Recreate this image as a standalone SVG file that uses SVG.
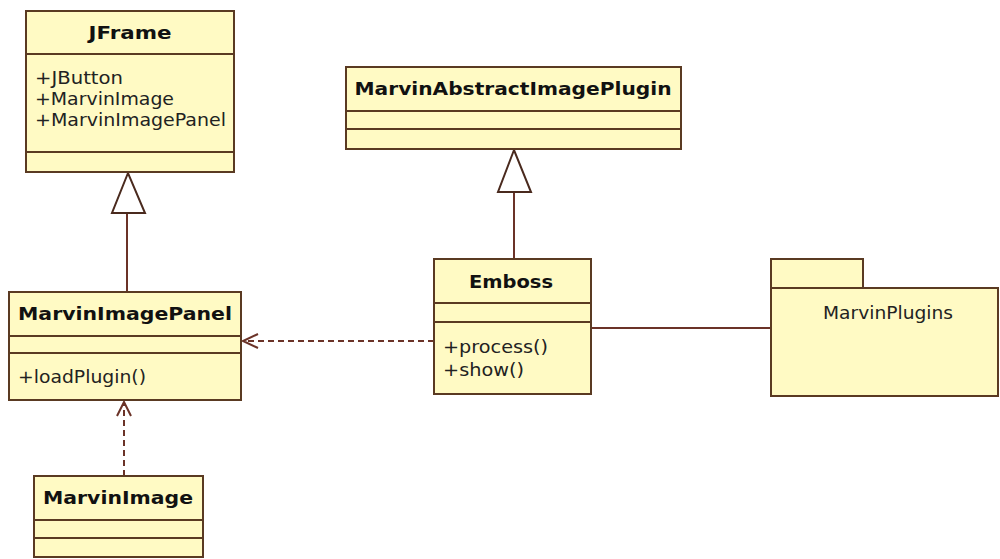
<svg xmlns="http://www.w3.org/2000/svg" width="1000" height="559" viewBox="0 0 1000 559">
<style>
.box{fill:#FFFAC4;stroke:#5A3A22;stroke-width:2}
.div{stroke:#5A3A22;stroke-width:2}
.t{font-family:"DejaVu Sans",Verdana,sans-serif;font-weight:bold;font-size:18px;fill:#111}
.a{font-family:"DejaVu Sans",Verdana,sans-serif;font-size:17px;fill:#222}
.c{stroke:#6B3328;stroke-width:2;fill:none}
.d{stroke:#6B3328;stroke-width:2;fill:none;stroke-dasharray:6,4}
.tri{fill:#fff;stroke:#4A2A1E;stroke-width:2}
</style>
<rect width="1000" height="559" fill="#fff"/>
<g id="connectors">
<line class="c" x1="127" y1="213" x2="127" y2="292"/>
<polygon class="tri" points="128,173 112,213 145,213"/>
<line class="c" x1="514" y1="192" x2="514" y2="259"/>
<polygon class="tri" points="514,150 498,192 531,192"/>
<line class="d" x1="434" y1="341" x2="243" y2="341"/>
<polyline class="c" points="258,334 243,341 258,348"/>
<line class="d" x1="124" y1="476" x2="124" y2="402"/>
<polyline class="c" points="117,416 124,402 131,416"/>
<line class="c" x1="591" y1="328" x2="771" y2="328"/>
</g>
<g id="JFrame">
<rect class="box" x="26" y="11" width="208" height="161"/>
<line class="div" x1="26" y1="54" x2="234" y2="54"/>
<line class="div" x1="26" y1="152" x2="234" y2="152"/>
<text class="t" x="130" y="39" text-anchor="middle" textLength="83" lengthAdjust="spacingAndGlyphs">JFrame</text>
<text class="a" x="35" y="84" textLength="88" lengthAdjust="spacingAndGlyphs">+JButton</text>
<text class="a" x="35" y="105" textLength="139" lengthAdjust="spacingAndGlyphs">+MarvinImage</text>
<text class="a" x="35" y="126" textLength="191" lengthAdjust="spacingAndGlyphs">+MarvinImagePanel</text>
</g>
<g id="MarvinAbstractImagePlugin">
<rect class="box" x="346" y="67" width="335" height="82"/>
<line class="div" x1="346" y1="111" x2="681" y2="111"/>
<line class="div" x1="346" y1="129" x2="681" y2="129"/>
<text class="t" x="513" y="95" text-anchor="middle" textLength="317" lengthAdjust="spacingAndGlyphs">MarvinAbstractImagePlugin</text>
</g>
<g id="MarvinImagePanel">
<rect class="box" x="9" y="292" width="232" height="108"/>
<line class="div" x1="9" y1="336" x2="241" y2="336"/>
<line class="div" x1="9" y1="353" x2="241" y2="353"/>
<text class="t" x="18" y="320" textLength="214" lengthAdjust="spacingAndGlyphs">MarvinImagePanel</text>
<text class="a" x="18" y="383" textLength="128" lengthAdjust="spacingAndGlyphs">+loadPlugin()</text>
</g>
<g id="Emboss">
<rect class="box" x="434" y="259" width="157" height="135"/>
<line class="div" x1="434" y1="303" x2="591" y2="303"/>
<line class="div" x1="434" y1="322" x2="591" y2="322"/>
<text class="t" x="511" y="288" text-anchor="middle" textLength="84" lengthAdjust="spacingAndGlyphs">Emboss</text>
<text class="a" x="443" y="353" textLength="105" lengthAdjust="spacingAndGlyphs">+process()</text>
<text class="a" x="443" y="376" textLength="81" lengthAdjust="spacingAndGlyphs">+show()</text>
</g>
<g id="MarvinImage">
<rect class="box" x="34" y="476" width="169" height="81"/>
<line class="div" x1="34" y1="520" x2="203" y2="520"/>
<line class="div" x1="34" y1="538" x2="203" y2="538"/>
<text class="t" x="43" y="504" textLength="150" lengthAdjust="spacingAndGlyphs">MarvinImage</text>
</g>
<g id="MarvinPlugins">
<rect class="box" x="771" y="259" width="92" height="29"/>
<rect class="box" x="771" y="288" width="227" height="108"/>
<text class="a" x="888" y="319" text-anchor="middle" textLength="130" lengthAdjust="spacingAndGlyphs">MarvinPlugins</text>
</g>
</svg>
